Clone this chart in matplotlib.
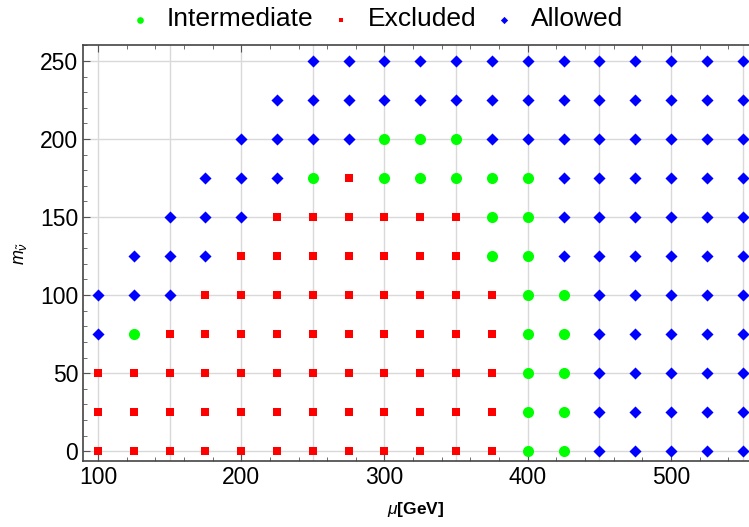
import matplotlib
matplotlib.use("Agg")
import matplotlib.pyplot as plt
from matplotlib.ticker import MultipleLocator

plt.rcParams['font.family'] = ['Liberation Sans', 'DejaVu Sans']
plt.rcParams['mathtext.fontset'] = 'custom'
plt.rcParams['mathtext.rm'] = 'Liberation Sans'
plt.rcParams['mathtext.it'] = 'Liberation Sans:italic'
plt.rcParams['mathtext.bf'] = 'Liberation Sans:bold'

# mu values (columns) and sneutrino masses (rows, top to bottom)
mu_vals = [100, 125, 150, 175, 200, 225, 250, 275, 300, 325, 350,
           375, 400, 425, 450, 475, 500, 525, 550]
m_vals = [250, 225, 200, 175, 150, 125, 100, 75, 50, 25, 0]
# status: I = Intermediate, E = Excluded, A = Allowed, ' ' = no point
status_rows = [
    "      AAAAAAAAAAAAA",
    "     AAAAAAAAAAAAAA",
    "    AAAAIIIAAAAAAAA",
    "   AAAIEIIIIIAAAAAA",
    "  AAAEEEEEEIIAAAAAA",
    " AAAEEEEEEEIIAAAAAA",
    "AAAEEEEEEEEEIIAAAAA",
    "AIEEEEEEEEEEIIAAAAA",
    "EEEEEEEEEEEEIIAAAAA",
    "EEEEEEEEEEEEIIAAAAA",
    "EEEEEEEEEEEEIIAAAAA",
]

pts = {'I': ([], []), 'E': ([], []), 'A': ([], [])}
for m, row in zip(m_vals, status_rows):
    for mu, c in zip(mu_vals, row):
        if c in pts:
            pts[c][0].append(mu)
            pts[c][1].append(m)

fig = plt.figure(figsize=(7.49, 5.27), dpi=100)
ax = fig.add_axes([83/749, (527-461)/527, (749-83)/749, (461-45)/527])

ax.scatter(*pts['I'], marker='o', s=64, color='#00ff00', linewidths=0,
           label='Intermediate', zorder=3)
ax.scatter(*pts['E'], marker='s', s=32, color='#ff0000', linewidths=0,
           label='Excluded', zorder=3)
ax.scatter(*pts['A'], marker='D', s=38, color='#0000ff', linewidths=0,
           label='Allowed', zorder=3)

ax.set_xlim(89.5, 554.5)
ax.set_ylim(-6.3, 260.2)

ax.xaxis.set_major_locator(MultipleLocator(100))
ax.xaxis.set_minor_locator(MultipleLocator(20))
ax.yaxis.set_major_locator(MultipleLocator(50))
ax.yaxis.set_minor_locator(MultipleLocator(10))

# grid lines every 50 in x and y
for gx in range(100, 551, 50):
    ax.axvline(gx, color='#d9d9d9', lw=1.0, zorder=1)
for gy in range(0, 251, 50):
    ax.axhline(gy, color='#d9d9d9', lw=1.0, zorder=1)

ax.tick_params(axis='both', which='both', direction='in', top=True, right=False,
               labelsize=16.5, color='#555555')
ax.tick_params(which='major', length=5)
ax.tick_params(which='minor', length=3)
ax.tick_params(axis='x', which='both', top=True, labeltop=False)

for side in ['top', 'left', 'bottom']:
    ax.spines[side].set_color('#444444')
    ax.spines[side].set_linewidth(1.2)
ax.spines['right'].set_visible(False)

ax.set_xlabel(r'$\mu$[GeV]', fontsize=12.5, fontweight='bold', labelpad=8)
ax.set_ylabel(r'$m_{\tilde{\nu}}$', fontsize=13, labelpad=8)

fig.legend(loc='center', bbox_to_anchor=(0.504, 0.963), ncol=3,
           frameon=False, fontsize=19, markerscale=0.6,
           handletextpad=0.72, columnspacing=0.75, handlelength=0.6,
           borderpad=0.2)

fig.savefig('out.png', dpi=100)
